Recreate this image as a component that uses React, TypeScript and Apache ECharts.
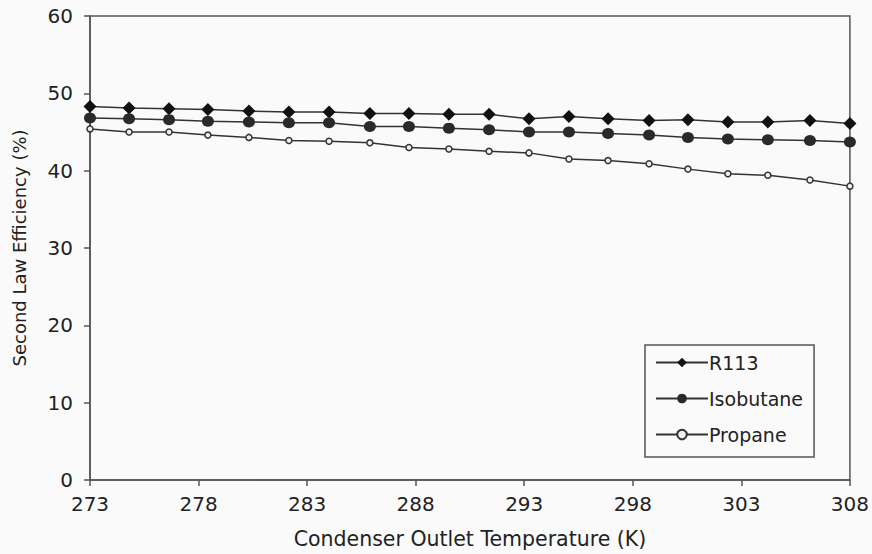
import React, { useEffect, useRef } from "react";
import * as echarts from "echarts";

const T0 = 273;
const temperatures = [273, 274.8, 276.64, 278.43, 280.32, 282.16, 284.01, 285.89, 287.69, 289.53, 291.38, 293.22, 295.06, 296.86, 298.75, 300.54, 302.38, 304.22, 306.16, 308];
const r113 = [48.3, 48.1, 48.0, 47.9, 47.7, 47.6, 47.6, 47.4, 47.4, 47.3, 47.3, 46.7, 47.0, 46.7, 46.5, 46.6, 46.3, 46.3, 46.5, 46.1];
const isobutane = [46.8, 46.7, 46.6, 46.4, 46.3, 46.2, 46.2, 45.7, 45.7, 45.5, 45.3, 45.0, 45.0, 44.8, 44.6, 44.3, 44.1, 44.0, 43.9, 43.7];
const propane = [45.4, 45.0, 45.0, 44.6, 44.3, 43.9, 43.8, 43.6, 43.0, 42.8, 42.5, 42.3, 41.5, 41.3, 40.9, 40.2, 39.6, 39.4, 38.8, 38.0];
const seriesNames = ["R113", "Isobutane", "Propane"];
const xTitle = "Condenser Outlet Temperature (K)";
const yTitle = "Second Law Efficiency (%)";

const FONT = "DejaVu Sans";
const AXIS = "#555555";
const TXT = "#222222";

export default function App() {
  const ref = useRef<HTMLDivElement>(null);
  useEffect(() => {
    if (!ref.current) return;
    const chart = echarts.init(ref.current, null, { renderer: "svg" });
    const pts = (vals: number[]) => temperatures.map((t, i) => [t - T0, vals[i]]);
    chart.setOption({
      animation: false,
      backgroundColor: "#fafafa",
      grid: { left: 90, right: 22, top: 16, bottom: 73, show: true, borderColor: AXIS, borderWidth: 1.5, backgroundColor: "transparent" },
      xAxis: {
        type: "value",
        min: 0,
        max: 35,
        interval: 5,
        name: xTitle,
        nameLocation: "middle",
        nameGap: 48,
        nameTextStyle: { fontFamily: FONT, fontSize: 20.5, color: TXT },
        axisLine: { show: true, lineStyle: { color: AXIS, width: 1.5 } },
        axisTick: { show: true, length: 6, lineStyle: { color: AXIS, width: 1.5 } },
        axisLabel: { margin: 14, fontFamily: FONT, fontSize: 20, color: TXT, formatter: (v: number) => String(v + T0) },
        splitLine: { show: false },
      },
      yAxis: {
        type: "value",
        min: 0,
        max: 60,
        interval: 10,
        name: yTitle,
        nameLocation: "middle",
        nameGap: 62,
        nameTextStyle: { fontFamily: FONT, fontSize: 18, color: TXT },
        axisLine: { show: true, lineStyle: { color: AXIS, width: 1.5 } },
        axisTick: { show: true, length: 6, lineStyle: { color: AXIS, width: 1.5 } },
        axisLabel: { margin: 17, fontFamily: FONT, fontSize: 20, color: TXT },
        splitLine: { show: false },
      },
      legend: {
        orient: "vertical",
        left: 645,
        top: 345,
        padding: [8, 11, 13, 10],
        itemWidth: 52,
        itemHeight: 12,
        itemGap: 17,
        borderColor: AXIS,
        borderWidth: 1.5,
        backgroundColor: "#fafafa",
        textStyle: { fontFamily: FONT, fontSize: 19, color: TXT, padding: [0, 0, 0, -4] },
        data: seriesNames,
      },
      series: [
        {
          name: seriesNames[0],
          type: "line",
          data: pts(r113),
          symbol: "diamond",
          symbolSize: [13, 13],
          lineStyle: { color: "#333333", width: 1.5 },
          itemStyle: { color: "#111111" },
        },
        {
          name: seriesNames[1],
          type: "line",
          data: pts(isobutane),
          symbol: "circle",
          symbolSize: [12, 11],
          lineStyle: { color: "#333333", width: 1.5 },
          itemStyle: { color: "#2a2a2a" },
        },
        {
          name: seriesNames[2],
          type: "line",
          data: pts(propane),
          symbol: "circle",
          symbolSize: 6,
          lineStyle: { color: "#333333", width: 1.5 },
          itemStyle: { color: "#eeeeee", borderColor: "#333333", borderWidth: 1.5 },
        },
      ],
    });
    return () => chart.dispose();
  }, []);
  return <div ref={ref} style={{ width: 872, height: 554, position: "absolute", left: 0, top: 0 }} />;
}
